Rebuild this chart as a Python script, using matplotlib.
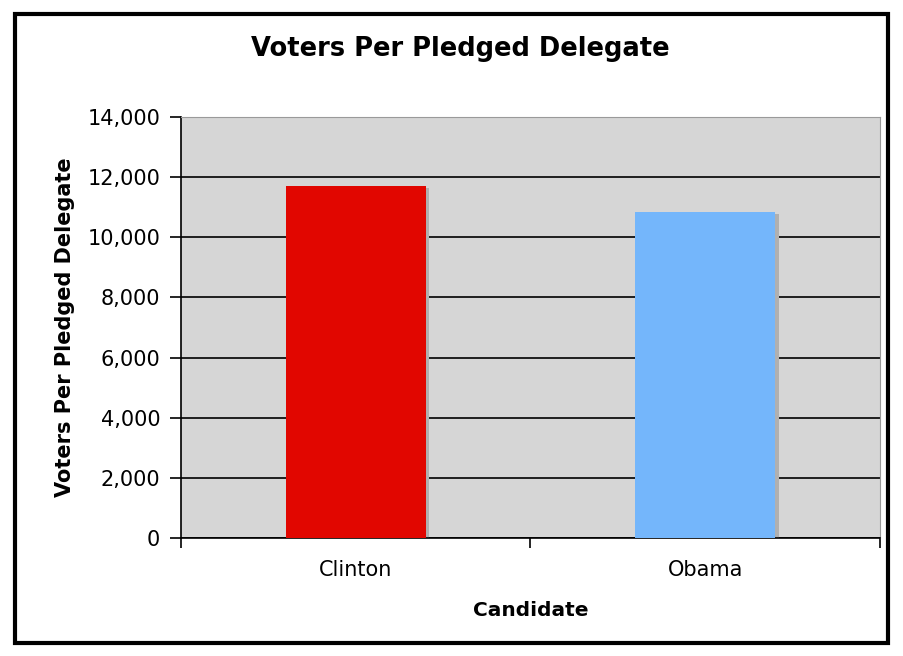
import matplotlib.pyplot as plt
from matplotlib.patches import Rectangle

candidates = ["Clinton", "Obama"]
voters_per_delegate = [11690, 10830]
bar_colors = ["#e10600", "#74b6fb"]
y_ticks = [0, 2000, 4000, 6000, 8000, 10000, 12000, 14000]

fig = plt.figure(figsize=(9.04, 6.56), dpi=100)
ax = fig.add_axes([181 / 904, 1 - 538 / 656, 699 / 904, 421 / 656])

ax.set_facecolor("#d6d6d6")
positions = range(len(candidates))

# soft drop shadow on the right of each bar
for x, v in zip(positions, voters_per_delegate):
    ax.add_patch(Rectangle((x - 0.2 + 0.01, 0), 0.4, v - 40, color="#b0b0b0",
                           zorder=2, lw=0))

ax.bar(positions, voters_per_delegate, width=0.4, color=bar_colors, zorder=3)

ax.set_xlim(-0.5, 1.5)
ax.set_ylim(0, 14000)
ax.set_yticks(y_ticks, [f"{t:,}" for t in y_ticks], fontsize=15)
ax.yaxis.grid(True, color="black", lw=1.2, zorder=1)
ax.set_axisbelow(True)

# category labels sit between the boundary ticks
ax.set_xticks([-0.5, 0.5, 1.5], ["", "", ""])
ax.set_xticks(list(positions), candidates, minor=True, fontsize=15)
ax.tick_params(axis="x", which="minor", length=0, pad=16)
ax.tick_params(axis="x", which="major", length=7, width=1.2, direction="out")
ax.tick_params(axis="y", length=8, width=1.2, direction="out", pad=7)

for side in ("top", "right"):
    ax.spines[side].set_color("#9a9a9a")
for side in ("left", "bottom"):
    ax.spines[side].set_color("black")
    ax.spines[side].set_linewidth(1.2)

fig.text(460 / 904, 1 - 49 / 656, "Voters Per Pledged Delegate", fontsize=18.5,
         fontweight="bold", ha="center", va="center")
ax.set_xlabel("Candidate", fontsize=14.5, fontweight="bold", labelpad=15)
ax.set_ylabel("Voters Per Pledged Delegate", fontsize=15, fontweight="bold", labelpad=9)

# black frame round the whole chart
fig.patches.append(Rectangle((15 / 904, 1 - 643 / 656), 873 / 904, 629 / 656,
                             transform=fig.transFigure, fill=False,
                             edgecolor="black", lw=3))

fig.savefig("out.png", dpi=100)
